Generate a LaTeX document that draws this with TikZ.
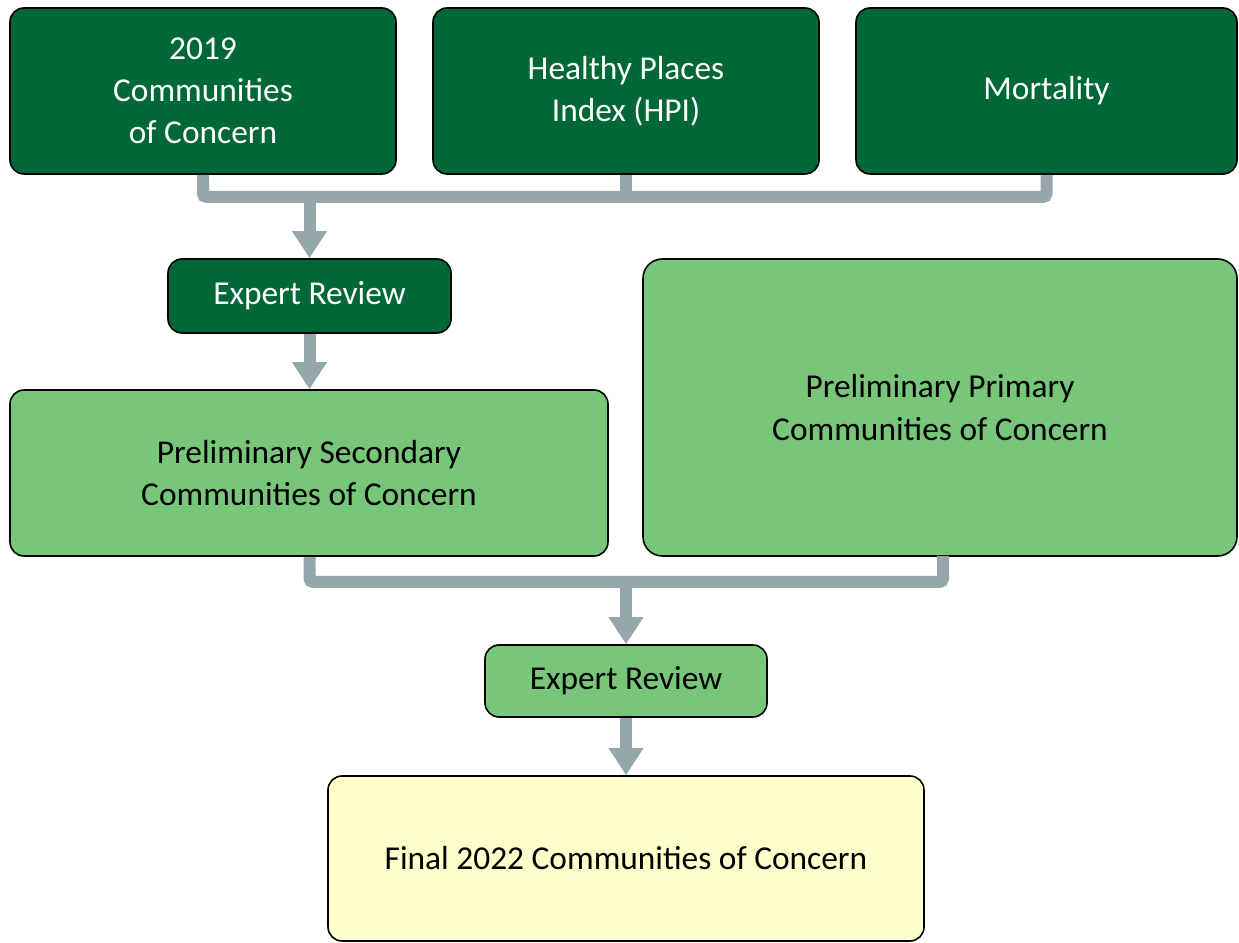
\documentclass[tikz,border=0pt]{standalone}
\usepackage{fontspec}
\setmainfont{Carlito}
\definecolor{cocdark}{RGB}{0,104,55}
\definecolor{coclight}{RGB}{120,198,121}
\definecolor{cocyellow}{RGB}{255,255,204}
\definecolor{cocgray}{RGB}{150,167,171}
\usetikzlibrary{arrows.meta,positioning}
\tikzset{
  box/.style={rectangle,rounded corners=8pt,draw=black,line width=0.9pt,
              fill=#1,text=black,inner sep=0pt,align=center,
              font=\fontsize{19}{24}\selectfont},
  box/.default=coclight,
  darkbox/.style={box=cocdark,text=white},
  bar/.style={cocgray,line width=0.24cm,rounded corners=2pt},
  arr/.style={cocgray,line width=0.24cm,
              -{Triangle[width=0.66cm,length=0.54cm]}},
}
\begin{document}
\begin{tikzpicture}
  \useasboundingbox (0,0) rectangle (24.78,18.86);

  % data sources
  \node[darkbox,minimum width=7.72cm,minimum height=3.32cm] (coc19) at (4.06,17.04)
       {2019\\Communities\\of Concern};
  \node[darkbox,minimum width=7.72cm,minimum height=3.32cm] (hpi) at (12.52,17.04)
       {Healthy Places\\Index (HPI)};
  \node[darkbox,minimum width=7.62cm,minimum height=3.32cm] (mort) at (20.93,17.04)
       {Mortality};

  \node[darkbox,minimum width=5.66cm,minimum height=1.48cm] (rev1) at (6.19,12.94)
       {Expert Review};

  % preliminary sets
  \node[box,minimum width=11.96cm,minimum height=3.32cm] (second) at (6.18,9.40)
       {Preliminary Secondary\\Communities of Concern};
  \node[box,rounded corners=11pt,minimum width=11.88cm,minimum height=5.94cm] (prim) at (18.80,10.71)
       {Preliminary Primary\\Communities of Concern};

  \node[box,minimum width=5.64cm,minimum height=1.44cm] (rev2) at (12.52,5.24)
       {Expert Review};
  \node[box=cocyellow,minimum width=11.92cm,minimum height=3.30cm] (final) at (12.52,1.69)
       {Final 2022 Communities of Concern};

  % connectors
  \coordinate (bus1) at (6.19,14.92);
  \coordinate (bus2) at (12.52,7.22);
  \coordinate (primfoot) at (18.86,7.74);
  \draw[bar] (coc19.south) |- (bus1) -| (mort.south);
  \draw[bar] (hpi.south) -- (hpi.south |- bus1);
  \draw[arr] (bus1) -- (rev1.north);
  \draw[arr] (rev1.south) -- (second.north -| rev1.south);

  \draw[bar] (second.south -| rev1.south) |- (bus2) -| (primfoot);
  \draw[arr] (bus2) -- (rev2.north);
  \draw[arr] (rev2.south) -- (final.north);
\end{tikzpicture}
\end{document}
